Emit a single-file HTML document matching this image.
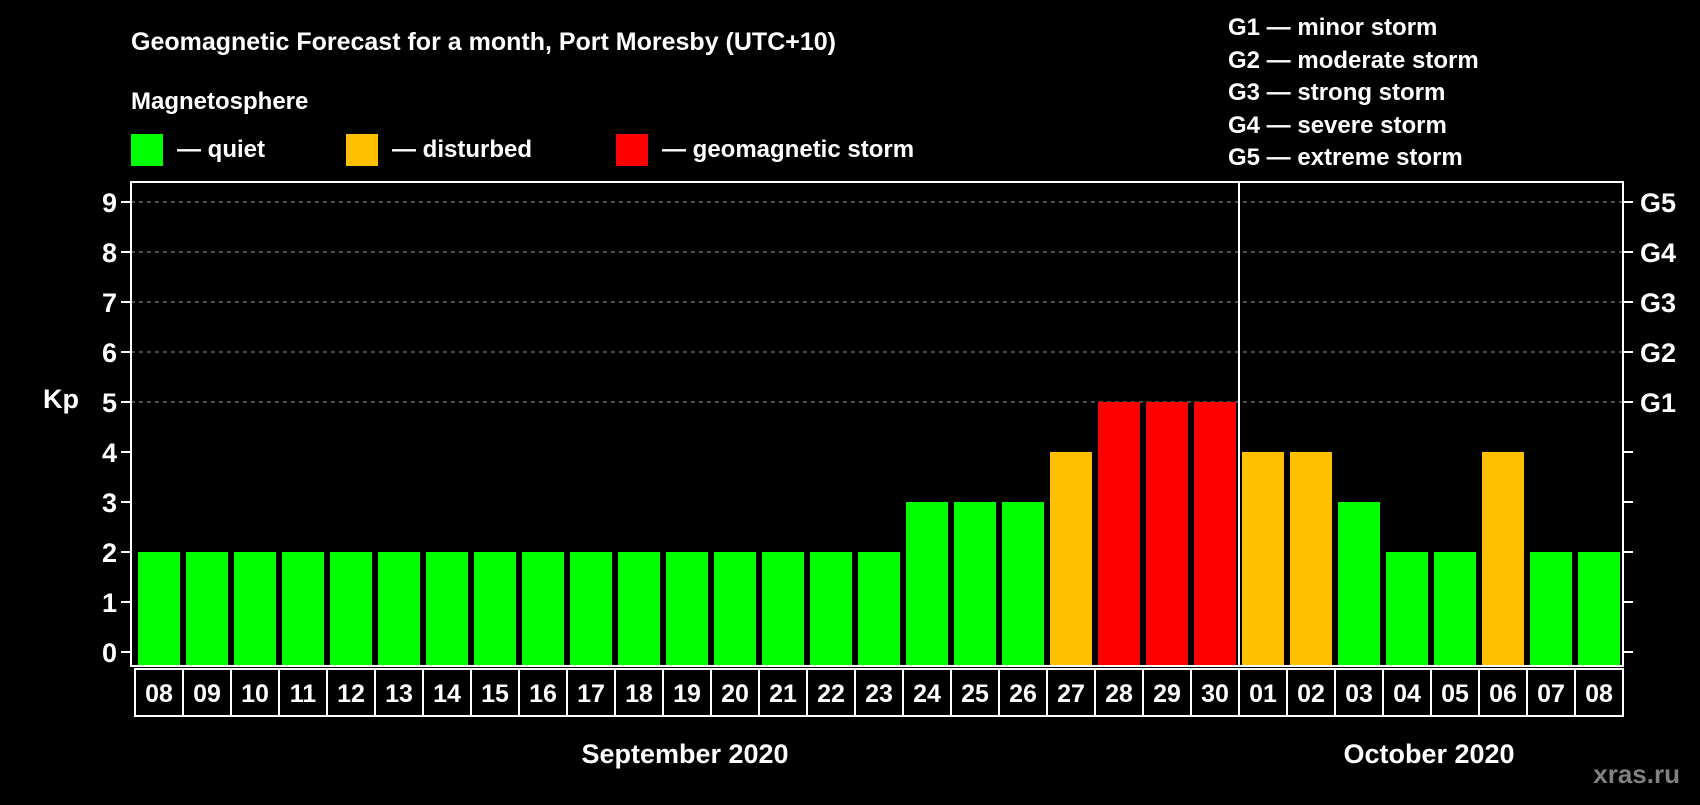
<!DOCTYPE html>
<html><head><meta charset="utf-8"><style>
body{margin:0;background:#000;width:1700px;height:800px;overflow:hidden}
text{font-family:"Liberation Sans",Arial,sans-serif;font-weight:bold;fill:#fff}
</style></head><body>
<svg id="c" width="1700" height="800" xmlns="http://www.w3.org/2000/svg">
<text x="131" y="50" font-size="25">Geomagnetic Forecast for a month, Port Moresby (UTC+10)</text>
<text x="131" y="109" font-size="24">Magnetosphere</text>
<rect x="131" y="134" width="32" height="32" fill="#00ff00"/>
<text x="177" y="157" font-size="24">— quiet</text>
<rect x="346" y="134" width="32" height="32" fill="#ffc000"/>
<text x="392" y="157" font-size="24">— disturbed</text>
<rect x="616" y="134" width="32" height="32" fill="#ff0000"/>
<text x="662" y="157" font-size="24">— geomagnetic storm</text>
<g font-size="24">
<text x="1228" y="35">G1 — minor storm</text>
<text x="1228" y="68">G2 — moderate storm</text>
<text x="1228" y="100">G3 — strong storm</text>
<text x="1228" y="133">G4 — severe storm</text>
<text x="1228" y="165">G5 — extreme storm</text>
</g>
<text x="43" y="408" font-size="27">Kp</text>
<g id="plot"></g>
<text x="685" y="763" font-size="27" text-anchor="middle">September 2020</text>
<text x="1429" y="763" font-size="27" text-anchor="middle">October 2020</text>
<text x="1680" y="783" font-size="26" text-anchor="end" style="fill:#808080">xras.ru</text>
</svg>
<script>
const days=["08","09","10","11","12","13","14","15","16","17","18","19","20","21","22","23","24","25","26","27","28","29","30","01","02","03","04","05","06","07","08"];
const kp=[2,2,2,2,2,2,2,2,2,2,2,2,2,2,2,2,3,3,3,4,5,5,5,4,4,3,2,2,4,2,2];
const yTicks=[0,1,2,3,4,5,6,7,8,9];
const gLabels=["G1","G2","G3","G4","G5"];
const NS="http://www.w3.org/2000/svg";
const g=document.getElementById('plot');
const L=131,R=1623,T=182,B=666,slot0=135,slotW=48;
const y=v=>652-v*50;
const x=i=>slot0+i*slotW;
function mk(t,a){const e=document.createElementNS(NS,t);for(const k in a)e.setAttribute(k,a[k]);g.appendChild(e);return e;}
function col(v){return v>=5?"#ff0000":v>=4?"#ffc000":"#00ff00";}
yTicks.forEach(v=>{
 if(v>=5){const l=mk('line',{x1:L,x2:R,y1:y(v),y2:y(v),stroke:"#999","stroke-dasharray":"4,4","stroke-width":1});
 
 }
 const t1=mk('line',{x1:L-10,x2:L,y1:y(v),y2:y(v),stroke:"#fff","stroke-width":2});
 
 
 const t2=mk('line',{x1:R,x2:R+10,y1:y(v),y2:y(v),stroke:"#fff","stroke-width":2});
 
 
 const tx=mk('text',{x:L-14,y:y(v)+10,"font-size":27,"text-anchor":"end"});tx.textContent=v;
 
 
});
gLabels.forEach((s,i)=>{const tx=mk('text',{x:R+17,y:y(5+i)+10,"font-size":27});tx.textContent=s;
 
 });
kp.forEach((v,i)=>{
 const r=mk('rect',{x:x(i)+3,y:y(v),width:42,height:B-y(v),fill:col(v)});
 
 
 const bx=mk('rect',{x:x(i),y:669,width:slotW,height:47,fill:"none",stroke:"#fff","stroke-width":2});
 
 
 const t=mk('text',{x:x(i)+slotW/2,y:702,"font-size":25,"text-anchor":"middle"});t.textContent=days[i];
 
 
});
const fr=mk('rect',{x:L,y:T,width:R-L,height:B-T,fill:"none",stroke:"#fff","stroke-width":2});


const dv=mk('line',{x1:x(23),x2:x(23),y1:T,y2:B,stroke:"#fff","stroke-width":2});


</script>
</body></html>
